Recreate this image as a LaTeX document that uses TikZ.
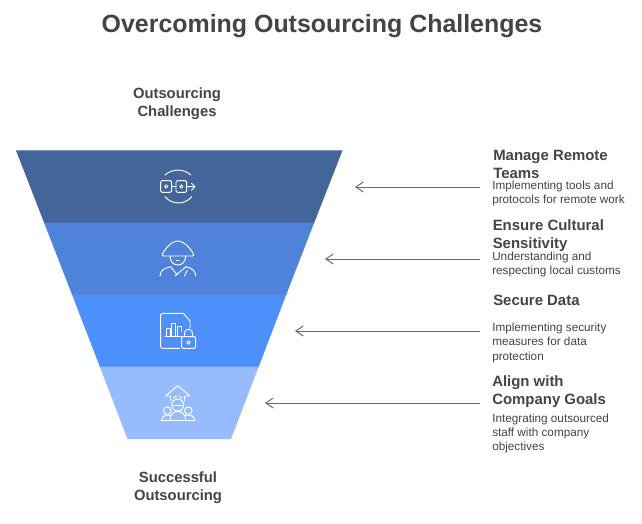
\documentclass[tikz,border=0pt]{standalone}
\usepackage{fontspec}
\setmainfont{Liberation Sans}
\usetikzlibrary{arrows.meta}
\definecolor{inkc}{HTML}{444444}
\definecolor{bandA}{HTML}{44659A}
\definecolor{bandB}{HTML}{4F82D9}
\definecolor{bandC}{HTML}{4D90FB}
\definecolor{bandD}{HTML}{97BCFE}
\definecolor{arrowc}{HTML}{6A6A6A}
\tikzset{
  titletext/.style={font=\bfseries\fontsize{18.7}{22}\selectfont,text=inkc,inner sep=0pt},
  sidetext/.style={font=\bfseries\fontsize{11.1}{13.5}\selectfont,text=inkc,inner sep=0pt,align=center},
  headtext/.style={font=\bfseries\fontsize{11.2}{13.5}\selectfont,text=inkc,inner sep=0pt,align=left,anchor=north west},
  bodytext/.style={font=\fontsize{8.8}{10.6}\selectfont,text=inkc,inner sep=0pt,align=left,anchor=north west},
  pointer/.style={draw=arrowc,line width=0.75pt,-{Straight Barb[length=5.5pt,width=7.5pt]}},
  iconline/.style={draw=white,line width=0.72pt,line join=round,line cap=round,fill=none}
}
\begin{document}
\begin{tikzpicture}[x=0.75pt,y=-0.75pt]
\useasboundingbox (0,0) rectangle (642,524);
\fill[white] (0,0) rectangle (642,524);
% funnel bands, lowest first so that each upper band closes the seam
\fill[bandD] (99.5,366) -- (259,366) -- (231,439) -- (127.5,439) -- cycle;
\fill[bandC] (71.8,294) -- (286.5,294) -- (258.8,366.5) -- (99.7,366.5) -- cycle;
\fill[bandB] (43.8,222) -- (314.5,222) -- (286.3,294.5) -- (72,294.5) -- cycle;
\fill[bandA] (16,150.5) -- (342.5,150.5) -- (314.3,222.5) -- (44,222.5) -- cycle;
% texts
\node[titletext] (title) at (322,26) {Overcoming Outsourcing Challenges};
\node[sidetext] (top) at (177,103.5) {Outsourcing\\Challenges};
\node[sidetext] (bottom) at (178,487.5) {Successful\\Outsourcing};
\node[headtext] (h1) at (493,150) {Manage Remote\\Teams};
\node[bodytext] (b1) at (492,180.5) {Implementing tools and\\protocols for remote work};
\node[headtext] (h2) at (492.5,219.5) {Ensure Cultural\\Sensitivity};
\node[bodytext] (b2) at (492,252) {Understanding and\\respecting local customs};
\node[headtext] (h3) at (493,295) {Secure Data};
\node[bodytext] (b3) at (492,323) {Implementing security\\measures for data\\protection};
\node[headtext] (h4) at (492,375) {Align with\\Company Goals};
\node[bodytext] (b4) at (492,413.5) {Integrating outsourced\\staff with company\\objectives};
% connectors
\coordinate (s1) at (480,187); \coordinate (t1) at (355,187);
\coordinate (s2) at (480,259); \coordinate (t2) at (325,259);
\coordinate (s3) at (480,331); \coordinate (t3) at (295,331);
\coordinate (s4) at (480,403); \coordinate (t4) at (265,403);
\draw[pointer] (s1) -- (t1);
\draw[pointer] (s2) -- (t2);
\draw[pointer] (s3) -- (t3);
\draw[pointer] (s4) -- (t4);
% icon 1
\draw[iconline] (165,175) .. controls (172,168.5) and (184,168.5) .. (190.7,175);
\draw[iconline] (165,196.7) .. controls (172,205) and (185,205) .. (191.7,196.7);
\draw[iconline,rounded corners=1pt] (160.7,180.7) rectangle (171.7,192.3);
\draw[iconline,rounded corners=1pt] (176,180.7) rectangle (186.7,192.3);
\draw[iconline] (166.2,186.5) circle (1.6);
\draw[iconline] (181.3,186.5) circle (1.6);
\draw[iconline] (171.7,186.5) -- (176,186.5);
\draw[iconline] (186.7,186.7) -- (195,186.7) (191.5,183.2) -- (195,186.7) -- (191.5,190.2);
% icon 2
\draw[iconline] (162.3,255.3) .. controls (163,251) and (171,241) .. (177.7,241) .. controls (184.5,241) and (193,251) .. (193.7,255.3) .. controls (193.7,256) and (193,256) .. (192.5,256) -- (163.5,256) .. controls (163,256) and (162.3,256) .. (162.3,255.3) -- cycle;
\draw[iconline] (170,256) .. controls (170,268) and (185.7,268) .. (185.7,256);
\draw[iconline] (176.3,260.5) -- (179,260.5);
\draw[iconline] (160,276) .. controls (160,270) and (165,268) .. (170.7,266.7) -- (176.7,274.3);
\draw[iconline] (186,266.7) -- (175,276);
\draw[iconline] (187.3,270) -- (184.5,276);
\draw[iconline] (186,266.7) .. controls (192,268) and (195.7,271) .. (195.7,276);
% icon 3
\draw[iconline,rounded corners=1pt] (180,348.3) -- (160.7,348.3) -- (160.7,313.3) -- (183.3,313.3);
\draw[iconline] (183.3,313.3) -- (190,321) -- (190,328);
\draw[iconline] (166,336.7) -- (166,328) -- (170,328) -- (170,336.7) (171.7,336.7) -- (171.7,323.3) -- (175.7,323.3) -- (175.7,336.7) (177.7,336.7) -- (177.7,326) -- (181.7,326) -- (181.7,331);
\draw[iconline] (165,336.7) -- (181.7,336.7);
\draw[iconline,rounded corners=1pt] (181.7,336.7) rectangle (195.7,348.3);
\draw[iconline] (184.5,336.7) -- (184.5,334) .. controls (184.5,327.5) and (192.5,327.5) .. (192.5,334) -- (192.5,336.7);
\draw[iconline] (188.5,342.5) circle (1.8);
% icon 4
\draw[iconline] (170.7,401) -- (170.7,396) -- (165.7,396) -- (177.7,385.7) -- (190,396) -- (184.5,396) -- (184.5,401);
\draw[iconline] (173.3,398) -- (176.5,396) (182,398) -- (179,396);
\draw[iconline] (177.7,405) circle (6);
\draw[iconline] (172.5,405) -- (183,405);
\draw[iconline] (167.3,410.7) circle (3.8);
\draw[iconline] (188.3,410.7) circle (3.8);
\draw[iconline] (161,420) -- (195,420);
\draw[iconline] (170,420) .. controls (170,408.5) and (185.7,408.5) .. (185.7,420);
\draw[iconline] (161.7,420) .. controls (162,415.5) and (166,414.5) .. (171.5,415.5);
\draw[iconline] (194.5,420) .. controls (194,415.5) and (190,414.5) .. (184.5,415.5);
\end{tikzpicture}
\end{document}
